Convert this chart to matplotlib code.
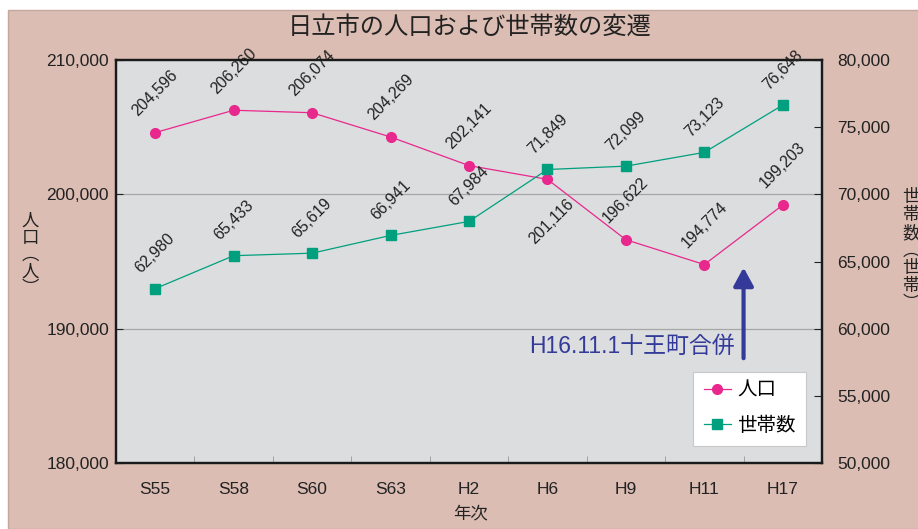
import matplotlib

matplotlib.use("Agg")
import matplotlib.pyplot as plt
from matplotlib.patches import Rectangle

plt.rcParams["font.family"] = ["Liberation Sans", "Noto Sans CJK JP", "DejaVu Sans"]

years = ["S55", "S58", "S60", "S63", "H2", "H6", "H9", "H11", "H17"]
population = [204596, 206260, 206074, 204269, 202141, 201116, 196622, 194774, 199203]
households = [62980, 65433, 65619, 66941, 67984, 71849, 72099, 73123, 76648]
pop_label_below = [False, False, False, False, False, True, False, False, False]

pink = "#dbbdb3"
magenta = "#e8288c"
teal = "#00a07e"
navy = "#333a99"


def main() -> None:
    fig = plt.figure(figsize=(9.18, 5.29), dpi=100, facecolor="white")
    fig.patches.append(Rectangle((8 / 918, 0), 1, 1 - 10 / 529, transform=fig.transFigure,
                                 facecolor=pink, edgecolor="#c4a8a0", lw=1, zorder=-1))

    ax = fig.add_axes([116 / 918, 1 - 463 / 529, 706 / 918, 403 / 529])
    ax.set_facecolor("#dcdddf")
    ax2 = ax.twinx()

    x = list(range(len(years)))
    ax.plot(x, population, color=magenta, lw=0.9, marker="o", ms=7, label="人口", zorder=3)
    ax2.plot(x, households, color=teal, lw=0.9, marker="s", ms=7, label="世帯数", zorder=3)

    for xi, v, below in zip(x, population, pop_label_below):
        if below:
            ax.annotate(f"{v:,}", (xi, v), xytext=(3, -12), textcoords="offset points",
                        rotation=45, ha="center", va="top", fontsize=11.5, color="#222222")
        else:
            ax.annotate(f"{v:,}", (xi, v), xytext=(0, 10), textcoords="offset points",
                        rotation=45, ha="center", va="bottom", fontsize=11.5, color="#222222",
                        annotation_clip=False)
    for xi, v in zip(x, households):
        ax2.annotate(f"{v:,}", (xi, v), xytext=(0, 9), textcoords="offset points",
                     rotation=45, ha="center", va="bottom", fontsize=11.5, color="#222222",
                     annotation_clip=False)

    ax.set_xlim(-0.5, len(years) - 0.5)
    ax.set_ylim(180000, 210000)
    ax2.set_ylim(50000, 80000)
    ax.set_yticks(range(180000, 210001, 10000))
    ax2.set_yticks(range(50000, 80001, 5000))
    ax.yaxis.set_major_formatter(lambda v, p: f"{int(v):,}")
    ax2.yaxis.set_major_formatter(lambda v, p: f"{int(v):,}")
    ax.set_xticks(x)
    ax.set_xticklabels(years)
    ax.set_xticks([i + 0.5 for i in x[:-1]], minor=True)
    ax.tick_params(axis="x", which="major", length=0, pad=14, labelsize=12.5, colors="#222222")
    ax.tick_params(axis="x", which="minor", direction="in", length=5, color="#999999")
    ax.tick_params(axis="y", direction="in", length=5, pad=5, labelsize=12.5, colors="#222222")
    ax2.tick_params(axis="y", direction="in", length=6, pad=11, labelsize=12.5, colors="#222222")

    for yv in (190000, 200000):
        ax.axhline(yv, color="#a6a6a6", lw=0.9, zorder=1)

    for a in (ax, ax2):
        for s in a.spines.values():
            s.set_color("#1a1a1a")
            s.set_linewidth(1.6)

    ax.annotate("", xy=(7.5, 194550), xytext=(7.5, 187800),
                arrowprops=dict(arrowstyle="-|>,head_length=0.55,head_width=0.3",
                                color=navy, lw=3, mutation_scale=20,
                                shrinkA=0, shrinkB=0), zorder=4)
    ax.text(7.39, 188700, "H16.11.1十王町合併", ha="right", va="center",
            fontsize=16.5, color=navy, zorder=4)

    h1, l1 = ax.get_legend_handles_labels()
    h2, l2 = ax2.get_legend_handles_labels()
    leg = ax2.legend(h1 + h2, l1 + l2, loc="lower right", bbox_to_anchor=(0.9775, 0.043),
                     fontsize=14, frameon=True, fancybox=False, framealpha=1,
                     handlelength=1.4, borderpad=0.55, labelspacing=0.85,
                     handletextpad=0.3, borderaxespad=0)
    leg.get_frame().set_edgecolor("#c8c8c8")
    leg.get_frame().set_linewidth(0.8)

    fig.text(0.512, 1 - 27 / 529, "日立市の人口および世帯数の変遷", ha="center", va="center",
             fontsize=17.5, color="#222222")
    fig.text(470 / 918, 1 - 513 / 529, "年次", ha="center", va="center", fontsize=12.5,
             color="#222222")
    fig.text(30 / 918, 1 - 255 / 529, "\n".join("人口︵人︶"), ha="center", va="center",
             fontsize=12.5, color="#222222", linespacing=1.15)
    fig.text(911 / 918, 1 - 250 / 529, "\n".join("世帯数︵世帯︶"), ha="center", va="center",
             fontsize=12.5, color="#222222", linespacing=1.15)

    fig.savefig("out.png", dpi=100)


if __name__ == "__main__":
    main()
